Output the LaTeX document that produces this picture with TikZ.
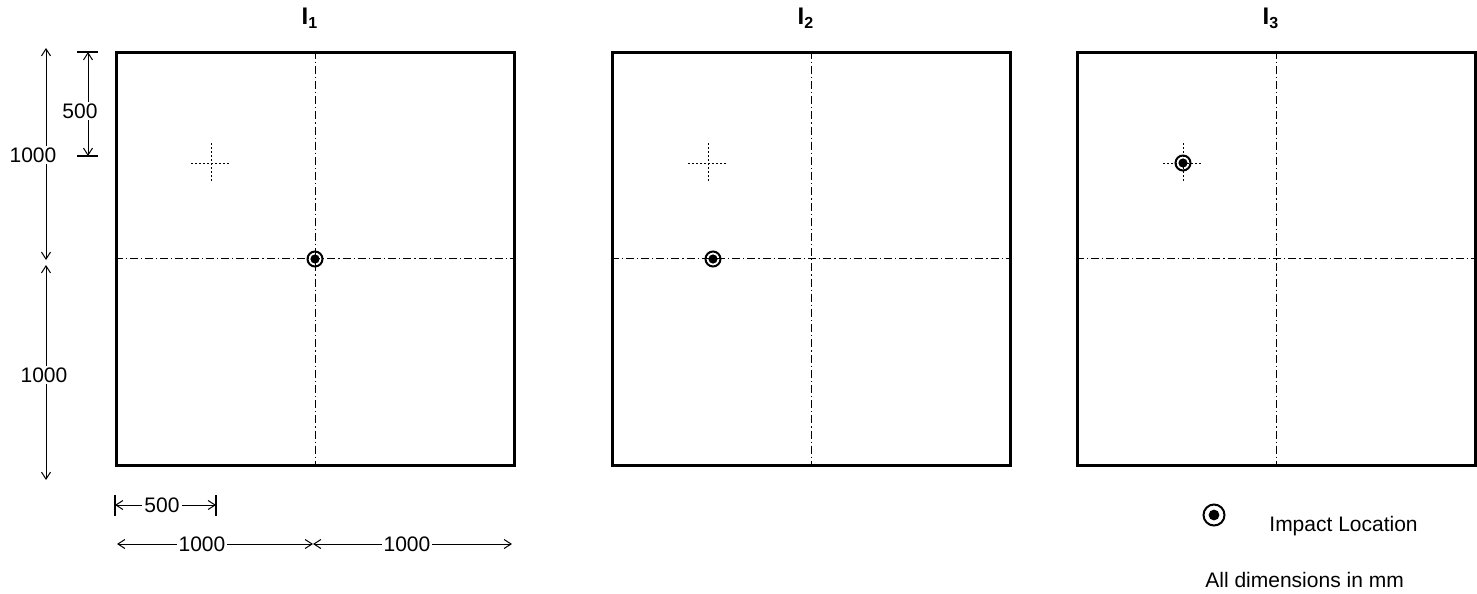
\documentclass[tikz,border=0pt]{standalone}
\usepackage{fontspec}
\setmainfont{Liberation Sans}
\usetikzlibrary{arrows.meta,positioning}

\begin{document}
\begin{tikzpicture}[x=0.5pt,y=-0.5pt,
  panel/.style={draw,line width=1.5pt,minimum width=199pt,minimum height=206.5pt,inner sep=0pt},
  centre/.style={line width=0.45pt,dash pattern=on 4pt off 1.5pt on 0.6pt off 1.5pt},
  aim/.style={line width=0.45pt,dash pattern=on 1pt off 1pt},
  dim/.style={line width=0.5pt,{Straight Barb[length=3.5pt,width=4.5pt]}-{Straight Barb[length=3.5pt,width=4.5pt]}},
  tick/.style={line width=0.6pt},
  txt/.style={font=\fontsize{10.5}{12}\selectfont,inner sep=0pt},
  lbl/.style={txt,fill=white,inner sep=1pt},
  ttl/.style={font=\fontsize{12}{14}\selectfont\bfseries,inner sep=0pt},
  impact/.style={circle,draw,line width=1pt,minimum size=7.5pt,inner sep=0pt,
    path picture={\fill (path picture bounding box.center) circle (2.3pt);}}]
\useasboundingbox (0,0) rectangle (1477,594);

% three panels with aim point and impact
\foreach \n/\cx/\ax/\hx/\hy in {1/315/211/315/259, 2/811/708/713/259, 3/1276/1183/1183/163}{
  \node[panel] (p\n) at (\cx,258.5) {};
  \draw[centre] (p\n.north) -- (p\n.south);
  \draw[centre] (p\n.west) -- (p\n.east);
  \draw[aim] (\ax-20,163) -- (\ax+20,163) (\ax,143) -- (\ax,183);
  \node[impact] (h\n) at (\hx,\hy) {};
  \node[ttl,anchor=base] (t\n) at (\cx-5,25) {I\textsubscript{\n}};
}

% vertical dimensions
\coordinate (v1) at (46,48);
\coordinate (v2) at (46,260);
\coordinate (v3) at (46,265);
\coordinate (v4) at (46,480);
\draw[dim] (v1) -- (v2);
\draw[dim] (v3) -- (v4);
\node[lbl] (dv1) at (33,155) {1000};
\node[lbl] (dv2) at (44,375) {1000};
\draw[tick] (77,52) -- (98,52) (77,156) -- (98,156);
\coordinate (w1) at (88,52);
\coordinate (w2) at (88,156);
\draw[dim] (w1) -- (w2);
\node[lbl] (dw) at (80,111) {500};

% horizontal dimensions
\draw[tick] (115,495) -- (115,516) (216,495) -- (216,516);
\coordinate (a1) at (115,505);
\coordinate (a2) at (216,505);
\draw[dim] (a1) -- (a2);
\node[lbl] (da) at (162,505) {500};
\coordinate (b1) at (117,544);
\coordinate (b2) at (313,544);
\coordinate (b3) at (512,544);
\draw[dim] (b1) -- (b2);
\draw[dim] (b2) -- (b3);
\node[lbl] (db1) at (202,544) {1000};
\node[lbl] (db2) at (407,544) {1000};

% key
\node[impact,minimum size=10.5pt,path picture={\fill (path picture bounding box.center) circle (2.7pt);}] (key) at (1214,515) {};
\node[txt,anchor=base west] (keytxt) at (1269,531) {Impact Location};
\node[txt,anchor=base west] (units) at (1205,587) {All dimensions in mm};
\end{tikzpicture}
\end{document}
